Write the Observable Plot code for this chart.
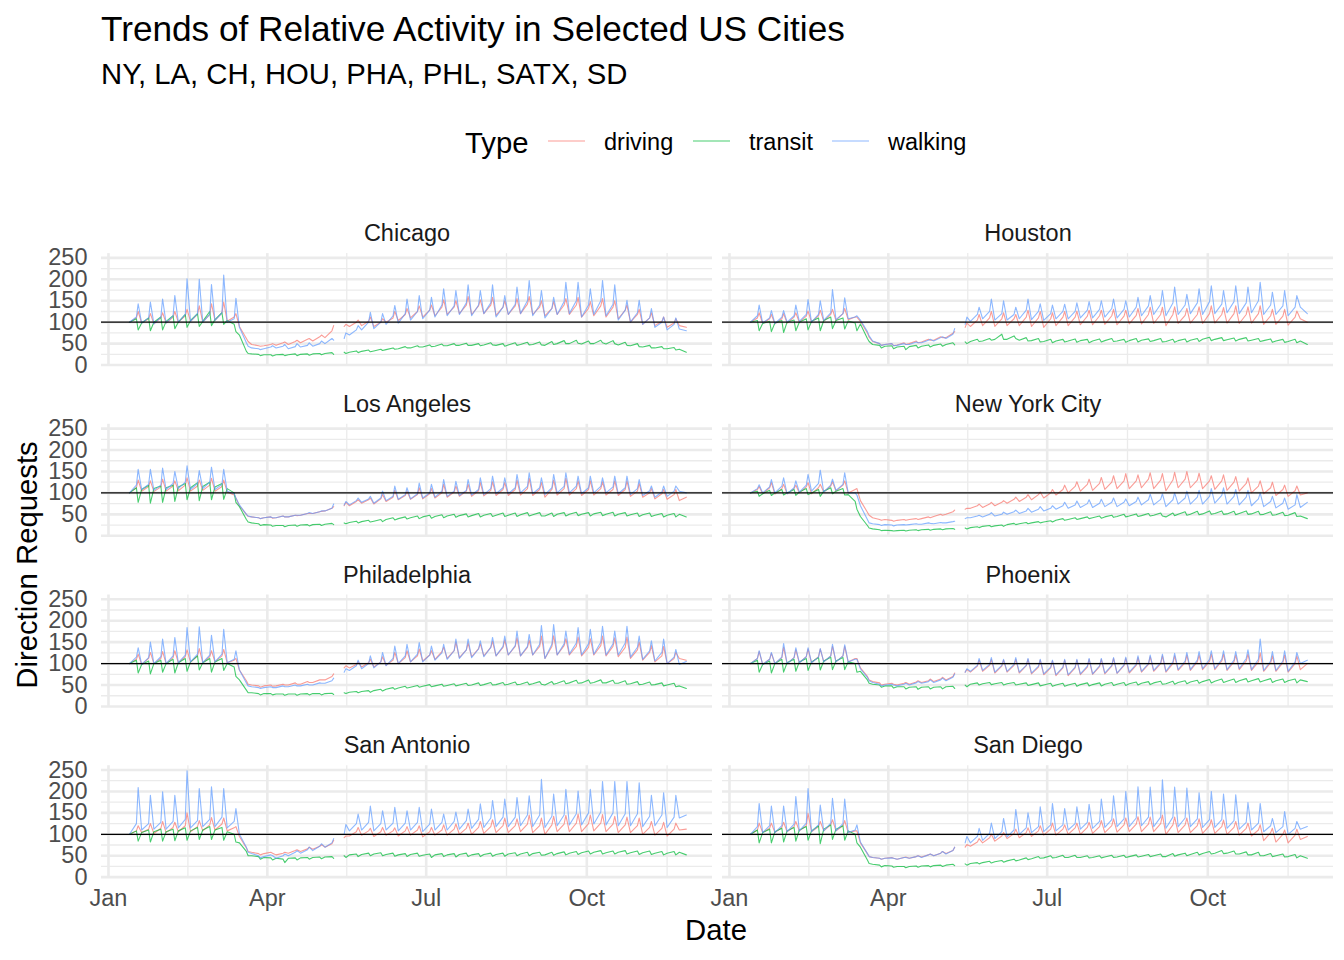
<!DOCTYPE html>
<html><head><meta charset="utf-8">
<script src="https://cdn.jsdelivr.net/npm/d3@7"></script>
<script src="https://cdn.jsdelivr.net/npm/@observablehq/plot@0.6"></script>
<style>
body{margin:0;background:#fff;font-family:"Liberation Sans",Arial,Helvetica,sans-serif;}
#wrap{position:relative;width:1344px;height:960px;overflow:hidden;background:#fff;}
.t{position:absolute;white-space:nowrap;line-height:1;color:#000;}
#chart{position:absolute;left:0;top:190px;}
</style></head><body>
<div id="wrap">
<div id="chart"></div>
<div class="t" style="left:101px;top:11px;font-size:35.2px;">Trends of Relative Activity in Selected US Cities</div>
<div class="t" style="left:101px;top:58.7px;font-size:29.3px;">NY, LA, CH, HOU, PHA, PHL, SATX, SD</div>
<div id="legend"></div>
<div class="t" style="left:716px;top:930px;font-size:29.3px;transform:translate(-50%,-50%);">Date</div>
<div class="t" style="left:27px;top:565px;font-size:29.3px;transform:translate(-50%,-50%) rotate(-90deg);">Direction Requests</div>
</div>
<script>
// ---------- categories / ticks ----------
const cities = ["Chicago","Houston","Los Angeles","New York City","Philadelphia","Phoenix","San Antonio","San Diego"];
const types = ["driving","transit","walking"];
const typeColors = ["#F8766D","#00BA38","#619CFF"];
const firstMonday = "2020-01-13";
const sampleOffsets = [0,4,5]; // Mon, Fri, Sat of each week
const xTicks = ["2020-01-01","2020-04-01","2020-07-01","2020-10-01"];
const xTickLabels = ["Jan","Apr","Jul","Oct"];
const xMinorBreaks = ["2020-02-15T12:00Z","2020-05-16T12:00Z","2020-08-16T00:00Z","2020-11-16T00:00Z"];
const yTicks = [0,50,100,150,200,250];
const yMinorBreaks = [25,75,125,175,225];
const baseline = [100];

// ---------- series values: weekly [Mon, Fri, Sat]; last week = [Mon, Fri] ----------
const chicagoDriving = [[100,110,125],[98,108,120],[96,110,122],[98,112,125],[100,115,130],[102,118,138],[100,118,143],[104,122,147],[102,112,120],[90,62,55],
[48,45,44],[45,48,50],[46,52,54],[48,55,58],[52,60,62],[56,66,70],[64,80,92],[null,90,95],[90,100,105],[92,102,112],
[90,100,108],[100,110,125],[104,118,132],[110,125,138],[112,128,140],[115,135,152],[118,135,150],[120,140,160],[118,138,152],[120,140,158],
[116,135,150],[118,138,155],[120,142,160],[118,135,150],[115,132,148],[118,140,155],[118,140,158],[112,132,148],[115,138,155],[112,135,150],
[108,128,140],[100,118,130],[95,110,122],[92,102,112],[88,98,108],[92,88]];
const chicagoTransit = [[100,108,82],[98,110,80],[100,112,82],[102,115,85],[100,118,88],[104,120,90],[102,125,92],[106,122,95],[104,95,78],[70,32,27],
[26,25,22],[24,24,21],[24,25,22],[24,26,22],[25,26,23],[26,27,24],[27,29,25],[null,30,27],[30,33,29],[32,35,31],
[33,37,34],[36,40,37],[38,43,40],[40,45,42],[42,47,43],[44,49,45],[45,50,46],[46,51,46],[46,50,45],[47,52,47],
[46,50,44],[47,52,46],[48,53,47],[48,54,47],[46,55,48],[50,57,50],[50,58,51],[49,56,50],[50,58,52],[49,57,50],
[47,53,46],[45,50,43],[42,46,40],[40,43,38],[38,41,35],[37,30]];
const chicagoWalking = [[100,112,143],[98,110,147],[96,112,154],[98,115,162],[100,118,201],[102,120,200],[100,118,188],[104,122,210],[100,108,156],[88,52,44],
[40,38,36],[38,42,45],[40,44,48],[38,43,50],[42,46,52],[44,50,56],[50,62,58],[null,62,75],[70,82,92],[82,100,123],
[85,100,120],[95,115,139],[98,120,154],[105,125,162],[108,128,158],[112,140,178],[115,138,174],[118,145,187],[115,140,174],[120,145,187],
[112,135,162],[118,142,182],[120,150,197],[115,140,174],[110,132,158],[118,148,193],[120,150,193],[112,140,178],[118,150,197],[115,142,187],
[105,128,151],[100,122,151],[95,110,132],[88,100,112],[82,95,110],[84,80]];

const houstonDriving = [[100,110,122],[97,108,118],[96,108,120],[98,112,122],[100,114,126],[100,115,128],[102,118,130],[104,120,132],[106,112,112],[102,75,65],
[55,50,46],[48,50,45],[47,52,48],[50,56,52],[54,60,58],[58,66,64],[64,74,78],[null,88,98],[90,105,118],[92,110,125],
[90,108,122],[92,108,118],[92,112,128],[90,110,125],[88,108,122],[92,112,125],[92,112,126],[94,114,128],[94,115,128],[95,115,130],
[94,114,128],[96,116,132],[96,118,135],[97,118,135],[92,118,136],[97,116,132],[98,118,136],[97,120,138],[98,118,134],[98,120,138],
[97,118,136],[98,120,138],[95,115,130],[95,114,130],[93,112,126],[108,100]];
const houstonTransit = [[100,104,80],[97,102,78],[98,104,76],[100,105,80],[100,108,82],[102,110,80],[104,112,85],[104,110,84],[103,98,80],[96,62,55],
[48,46,40],[44,45,38],[42,44,36],[43,46,40],[44,47,42],[46,49,44],[48,52,47],[null,54,50],[55,60,55],[56,62,58],
[60,72,60],[60,68,62],[58,64,56],[57,62,54],[55,60,52],[56,60,54],[56,61,53],[57,60,52],[56,61,54],[57,62,55],
[56,60,53],[57,62,54],[58,61,55],[57,62,54],[55,60,53],[57,61,54],[58,62,55],[60,65,57],[60,64,57],[59,63,56],
[60,64,56],[58,62,55],[57,61,53],[56,60,53],[55,60,52],[56,48]];
const houstonWalking = [[100,115,140],[98,110,127],[97,112,127],[100,115,140],[102,118,153],[100,118,150],[104,122,176],[106,120,157],[108,112,115],[105,78,68],
[56,50,46],[48,50,45],[46,50,48],[48,54,52],[52,58,60],[56,64,66],[62,72,85],[null,95,112],[102,118,135],[108,125,154],
[105,120,150],[105,118,135],[108,128,154],[106,125,143],[104,120,140],[108,125,142],[108,125,145],[110,128,148],[110,130,150],[112,132,154],
[110,130,150],[112,135,158],[115,138,162],[118,142,174],[115,145,182],[118,140,165],[120,145,178],[118,148,185],[120,142,174],[122,148,185],
[120,145,182],[122,150,193],[118,140,170],[118,138,174],[115,135,162],[135,120]];

const losAngelesDriving = [[100,112,130],[104,115,128],[103,114,132],[104,116,128],[105,118,135],[104,116,130],[106,118,134],[104,115,130],[102,95,88],[70,50,45],
[44,42,40],[42,44,41],[42,46,44],[44,48,47],[48,52,52],[52,56,57],[58,64,68],[null,70,78],[70,80,84],[76,84,88],
[74,86,96],[80,90,106],[84,94,104],[85,96,112],[86,98,110],[88,100,120],[90,102,116],[92,104,120],[92,105,124],[93,106,126],
[94,108,124],[94,108,130],[95,110,134],[94,108,124],[90,108,130],[95,110,134],[95,110,128],[94,108,128],[95,110,126],[95,108,128],
[94,108,128],[92,104,122],[90,100,110],[86,98,108],[85,96,108],[82,90]];
const losAngelesTransit = [[100,112,78],[108,118,76],[110,116,78],[112,118,80],[114,122,84],[112,124,82],[115,125,84],[114,122,85],[110,100,78],[68,38,32],
[30,28,24],[26,25,22],[24,24,21],[24,25,22],[25,26,23],[26,27,24],[27,29,26],[null,30,28],[31,34,30],[33,36,32],
[34,38,33],[38,42,37],[40,44,39],[42,46,40],[44,48,41],[45,49,42],[46,50,43],[47,51,44],[47,52,44],[48,52,45],
[48,53,45],[48,53,45],[49,54,46],[49,54,46],[46,53,45],[50,54,46],[50,55,47],[50,54,46],[51,55,47],[50,55,46],
[50,54,46],[49,53,45],[49,53,45],[48,52,44],[48,52,44],[50,44]];
const losAngelesWalking = [[100,118,155],[108,120,155],[106,118,158],[108,122,150],[110,125,163],[108,122,152],[110,125,160],[108,120,155],[104,98,88],[72,50,46],
[44,42,40],[42,44,42],[42,46,44],[44,48,48],[48,52,54],[52,56,58],[58,64,74],[null,72,80],[72,82,88],[78,86,92],
[76,88,104],[82,92,116],[85,96,112],[86,98,123],[88,100,120],[90,104,131],[92,104,127],[94,106,131],[95,108,135],[96,110,139],
[98,112,135],[98,112,143],[100,115,147],[98,112,135],[96,112,143],[100,115,147],[100,116,139],[98,112,139],[100,115,135],[100,114,139],
[98,112,139],[96,110,131],[94,105,116],[90,102,116],[92,104,116],[104,100]];

const newYorkDriving = [[100,108,115],[98,112,124],[97,110,120],[98,110,118],[100,114,124],[98,112,120],[102,116,126],[104,118,128],[100,108,110],[82,55,48],
[42,38,36],[38,36,34],[36,38,36],[38,40,38],[40,44,42],[45,50,48],[50,56,60],[null,62,64],[64,70,74],[66,74,78],
[70,78,82],[76,85,90],[80,90,96],[84,96,102],[88,100,108],[95,108,118],[100,115,126],[104,120,132],[106,122,136],[108,125,140],
[110,128,145],[110,128,142],[112,132,147],[110,130,145],[105,130,148],[112,132,150],[112,130,146],[110,128,140],[108,128,142],[106,125,138],
[104,122,135],[100,116,128],[98,112,125],[94,108,118],[92,105,116],[95,100]];
const newYorkTransit = [[100,104,92],[98,106,94],[100,108,95],[100,108,94],[102,110,96],[100,108,92],[104,112,98],[104,110,95],[96,80,62],[45,24,18],
[16,14,12],[13,12,11],[12,13,11],[13,14,12],[14,15,13],[15,16,14],[16,17,15],[null,18,16],[19,21,19],[22,24,21],
[23,25,22],[26,29,26],[28,31,28],[30,33,30],[32,35,32],[36,40,36],[38,42,38],[40,44,40],[42,46,41],[44,48,43],
[45,50,44],[46,51,45],[47,52,46],[48,53,46],[44,53,47],[50,56,48],[50,57,49],[51,58,50],[52,58,50],[51,57,49],
[52,58,50],[51,57,49],[50,56,48],[49,55,47],[48,54,45],[46,40]];
const newYorkWalking = [[100,110,119],[100,114,131],[100,116,135],[98,112,128],[102,118,143],[104,122,153],[102,118,132],[106,120,147],[100,100,95],[70,38,30],
[28,26,24],[26,25,23],[25,26,25],[26,28,27],[27,30,29],[28,31,30],[30,33,34],[null,40,42],[42,46,48],[44,50,54],
[46,50,55],[50,56,60],[52,58,64],[55,62,68],[58,64,70],[62,70,78],[64,72,81],[66,75,84],[66,76,85],[68,78,88],
[68,78,86],[70,80,90],[72,84,97],[72,85,98],[68,84,100],[74,88,104],[74,90,106],[74,92,110],[76,94,112],[74,92,108],
[72,90,106],[70,86,100],[68,80,92],[65,76,88],[62,72,96],[66,78]];

const philadelphiaDriving = [[100,110,122],[98,112,126],[100,112,128],[100,114,130],[102,116,132],[103,118,135],[102,116,130],[104,118,133],[102,108,112],[85,60,52],
[50,48,45],[48,50,47],[48,52,50],[50,55,52],[52,58,56],[56,62,62],[62,70,76],[null,90,95],[90,98,104],[92,102,110],
[92,104,116],[96,108,126],[100,114,130],[104,118,134],[106,120,130],[110,128,138],[112,130,150],[114,132,148],[116,135,146],[118,138,152],
[118,138,155],[120,140,160],[118,138,155],[120,140,164],[112,140,165],[120,142,158],[120,140,162],[118,138,158],[120,142,164],[118,140,160],
[116,138,162],[112,132,150],[108,126,142],[104,118,140],[100,112,126],[112,108]];
const philadelphiaTransit = [[100,108,78],[98,106,76],[100,108,80],[100,110,78],[102,112,82],[104,118,85],[102,112,80],[104,112,84],[100,92,70],[62,38,32],
[32,30,27],[30,30,27],[29,29,26],[29,29,26],[29,30,27],[30,30,27],[30,31,28],[null,32,30],[33,35,32],[35,37,33],
[37,40,36],[40,44,40],[43,47,43],[45,49,45],[47,51,46],[48,52,47],[49,53,48],[50,54,49],[50,55,49],[51,56,50],
[51,56,50],[52,57,51],[52,57,51],[53,58,52],[50,58,52],[54,60,53],[55,61,54],[55,62,54],[56,62,55],[55,61,54],
[54,60,52],[53,58,51],[52,57,50],[51,55,48],[50,54,46],[48,42]];
const philadelphiaWalking = [[100,115,137],[98,114,150],[100,116,157],[100,118,161],[102,120,184],[104,122,186],[102,120,166],[104,122,180],[102,110,130],[85,55,48],
[46,44,42],[44,46,44],[44,48,46],[46,50,48],[48,52,50],[50,55,54],[54,60,66],[null,80,88],[84,95,108],[88,100,118],
[90,104,126],[95,112,141],[100,118,145],[104,122,149],[104,120,141],[108,125,145],[110,130,157],[112,132,157],[114,134,153],[116,138,161],
[118,140,164],[120,142,176],[118,140,168],[120,145,189],[112,145,191],[120,146,176],[122,148,184],[120,146,180],[122,150,187],[120,146,176],
[120,148,187],[115,138,164],[110,130,153],[106,126,157],[100,115,133],[98,105]];

const phoenixDriving = [[100,112,128],[98,110,124],[100,114,138],[100,114,132],[102,116,134],[102,116,134],[104,118,140],[104,118,140],[104,112,112],[90,70,62],
[58,55,50],[52,54,52],[50,54,56],[52,57,60],[56,60,64],[58,64,68],[62,70,78],[null,80,86],[80,94,108],[82,96,110],
[78,94,108],[80,96,110],[78,95,110],[76,92,108],[74,90,106],[72,90,108],[72,90,108],[74,92,110],[75,93,110],[76,94,112],
[77,95,112],[78,96,114],[80,98,116],[82,100,118],[80,100,118],[84,102,120],[84,104,120],[86,105,122],[86,106,122],[84,104,120],
[86,106,122],[84,104,125],[82,102,118],[82,102,120],[80,100,118],[86,100]];
const phoenixTransit = [[100,108,80],[98,106,78],[100,110,80],[102,110,82],[104,112,84],[104,114,85],[106,115,86],[106,114,86],[104,100,80],[82,62,54],
[52,50,45],[48,48,43],[46,46,41],[45,46,40],[45,46,41],[45,46,41],[46,47,42],[null,50,46],[52,55,50],[53,56,51],
[53,56,50],[53,56,50],[52,55,49],[51,55,48],[50,54,47],[50,54,47],[50,54,47],[51,55,48],[51,55,48],[52,56,49],
[52,56,49],[53,57,50],[54,58,51],[55,59,52],[53,59,52],[56,60,53],[57,61,54],[58,63,55],[59,64,56],[59,64,56],
[60,65,57],[60,65,57],[60,65,56],[60,64,56],[60,64,55],[62,58]];
const phoenixWalking = [[100,112,130],[98,110,126],[100,115,147],[100,114,137],[102,116,137],[102,115,135],[104,118,145],[104,118,144],[104,110,110],[88,68,60],
[56,52,48],[50,52,50],[48,52,54],[50,55,58],[54,58,62],[56,62,66],[60,68,76],[null,80,88],[82,96,112],[84,98,114],
[80,96,110],[82,98,114],[80,96,112],[78,94,110],[76,92,108],[74,92,110],[74,92,110],[76,94,112],[76,95,112],[78,96,114],
[78,97,115],[80,98,118],[82,100,120],[84,102,122],[82,104,124],[86,106,126],[86,108,128],[88,110,130],[88,110,130],[86,108,128],
[88,112,132],[86,110,157],[84,106,128],[84,106,130],[82,104,126],[100,108]];

const sanAntonioDriving = [[100,108,120],[104,112,125],[102,114,130],[104,116,128],[106,120,150],[106,118,132],[108,122,139],[110,124,138],[108,115,118],[95,68,60],
[58,55,52],[55,58,56],[52,56,58],[56,62,64],[60,66,70],[65,72,76],[70,78,86],[null,92,96],[96,106,116],[98,108,114],
[95,106,116],[98,108,115],[96,108,118],[98,110,120],[94,106,116],[98,110,122],[98,112,124],[100,114,126],[100,116,130],[102,118,134],
[104,120,138],[104,120,136],[106,124,145],[104,120,138],[100,122,142],[106,124,144],[106,126,147],[106,125,145],[108,126,146],[106,124,142],
[104,122,140],[104,120,138],[100,116,130],[98,114,128],[96,112,126],[110,112]];
const sanAntonioTransit = [[100,108,84],[104,110,82],[106,112,84],[106,112,85],[108,115,86],[108,116,88],[110,118,88],[110,116,86],[106,100,82],[80,60,50],
[50,48,42],[46,45,40],[44,42,34],[44,45,40],[45,46,42],[46,47,43],[47,48,44],[null,50,46],[52,54,48],[53,56,50],
[54,57,50],[53,56,49],[52,55,48],[53,56,49],[51,54,46],[52,55,48],[52,55,47],[53,56,48],[52,55,48],[53,56,49],
[53,56,49],[54,57,50],[54,58,50],[55,58,51],[52,58,51],[55,59,52],[56,60,53],[57,61,54],[58,62,54],[57,61,54],
[58,62,54],[57,61,53],[57,61,53],[56,60,52],[56,60,52],[58,52]];
const sanAntonioWalking = [[100,125,209],[110,125,191],[112,128,199],[112,130,191],[115,135,248],[115,132,207],[118,135,211],[118,140,207],[115,130,160],[100,70,58],
[55,50,45],[48,52,50],[44,50,54],[50,58,62],[56,64,70],[62,72,78],[70,80,90],[null,100,123],[108,125,147],[110,128,166],
[108,125,155],[110,126,163],[108,126,155],[110,128,163],[106,124,159],[110,128,147],[110,130,152],[112,132,159],[114,135,171],[116,138,179],
[118,140,182],[118,140,186],[120,145,190],[118,145,228],[116,142,194],[120,145,205],[122,148,201],[122,150,205],[124,152,223],[122,150,223],
[120,148,223],[120,148,220],[118,142,191],[120,145,197],[116,140,191],[138,145]];

const sanDiegoDriving = [[100,110,126],[104,114,126],[104,116,128],[106,118,130],[108,120,149],[106,118,130],[108,122,134],[108,120,132],[104,108,108],[80,55,48],
[46,44,42],[44,46,44],[42,46,47],[44,48,50],[47,52,54],[50,56,60],[55,62,70],[null,70,76],[72,82,90],[80,92,100],
[84,96,104],[90,102,112],[92,104,115],[95,108,120],[98,112,126],[98,112,122],[100,115,126],[100,116,128],[102,118,132],[104,120,136],
[105,122,138],[106,124,141],[106,124,140],[106,125,145],[100,122,140],[104,122,138],[104,120,136],[102,120,134],[102,118,133],[100,116,130],
[98,114,126],[96,110,122],[85,104,114],[82,100,110],[80,98,112],[88,95]];
const sanDiegoTransit = [[100,110,80],[104,112,80],[106,114,82],[108,116,84],[110,118,86],[108,120,78],[112,122,88],[112,120,86],[108,100,80],[70,40,32],
[30,28,24],[27,26,23],[25,25,22],[25,26,23],[26,27,24],[27,28,25],[28,30,27],[null,31,28],[32,34,31],[34,37,33],
[36,39,35],[38,42,38],[40,45,41],[43,48,44],[45,50,45],[46,51,46],[46,51,46],[46,50,45],[46,50,45],[47,51,46],
[47,51,46],[48,52,47],[49,53,48],[50,54,48],[48,55,49],[52,56,50],[53,58,52],[55,60,54],[56,62,55],[56,61,54],
[54,59,52],[52,58,50],[50,55,48],[50,54,47],[48,53,45],[50,44]];
const sanDiegoWalking = [[100,118,172],[104,120,166],[104,120,166],[106,124,188],[108,126,207],[106,122,168],[108,126,184],[108,125,182],[104,110,122],[82,55,48],
[46,44,42],[44,45,44],[42,46,46],[44,48,50],[46,52,54],[50,56,60],[54,62,70],[null,80,95],[80,95,114],[86,102,126],
[90,106,137],[94,110,158],[100,115,150],[104,118,164],[106,122,172],[108,122,160],[110,125,164],[112,128,170],[114,130,182],[116,134,190],
[118,136,200],[118,138,211],[120,140,210],[118,140,227],[114,140,210],[118,138,208],[118,136,197],[116,134,200],[116,134,194],[114,132,192],
[112,128,174],[110,126,172],[106,120,137],[104,118,153],[100,114,130],[112,118]];

const seriesByCity = {
  "Chicago": [chicagoDriving, chicagoTransit, chicagoWalking],
  "Houston": [houstonDriving, houstonTransit, houstonWalking],
  "Los Angeles": [losAngelesDriving, losAngelesTransit, losAngelesWalking],
  "New York City": [newYorkDriving, newYorkTransit, newYorkWalking],
  "Philadelphia": [philadelphiaDriving, philadelphiaTransit, philadelphiaWalking],
  "Phoenix": [phoenixDriving, phoenixTransit, phoenixWalking],
  "San Antonio": [sanAntonioDriving, sanAntonioTransit, sanAntonioWalking],
  "San Diego": [sanDiegoDriving, sanDiegoTransit, sanDiegoWalking]
};

// ---------- build long table ----------
const DAY = 864e5;
const t0 = new Date(firstMonday + "T00:00:00Z").getTime();
const rows = [];
cities.forEach((city, ci) => {
  seriesByCity[city].forEach((weeks, ti) => {
    weeks.forEach((vals, k) => {
      vals.forEach((v, j) => {
        rows.push({city, type: types[ti], col: ci % 2, row: Math.floor(ci / 2),
          date: new Date(t0 + (k * 7 + sampleOffsets[j]) * DAY), value: v});
      });
    });
  });
});
const strips = cities.map((city, ci) => ({city, col: ci % 2, row: Math.floor(ci / 2)}));
const xTickDates = xTicks.map(d => new Date(d + "T00:00:00Z"));
const xMinorDates = xMinorBreaks.map(d => new Date(d));

const chart = Plot.plot({
  width: 1344, height: 770,
  marginLeft: 101, marginRight: 11, marginTop: 63.1, marginBottom: 82.9,
  style: {fontFamily: "'Liberation Sans', Arial, Helvetica, sans-serif", fontSize: "23.5px", background: "#fff", overflow: "visible"},
  fx: {domain: [0, 1], paddingInner: 10 / 621, paddingOuter: 0, round: false, axis: null, label: null},
  fy: {domain: [0, 1, 2, 3], paddingInner: 0.3445, paddingOuter: 0, round: false, axis: null, label: null},
  x: {type: "utc", domain: [new Date("2019-12-28T00:00:00Z"), new Date("2020-12-12T00:00:00Z")]},
  y: {domain: [-1, 260]},
  color: {domain: types, range: typeColors},
  marks: [
    Plot.ruleY(yMinorBreaks, {stroke: "#EBEBEB", strokeWidth: 1.3}),
    Plot.ruleX(xMinorDates, {stroke: "#EBEBEB", strokeWidth: 1.3}),
    Plot.ruleY(yTicks, {stroke: "#EBEBEB", strokeWidth: 2.6}),
    Plot.ruleX(xTickDates, {stroke: "#EBEBEB", strokeWidth: 2.6}),
    Plot.line(rows, {x: "date", y: "value", z: "type", stroke: "type", fx: "col", fy: "row", strokeWidth: 1.1, strokeOpacity: 0.72}),
    Plot.ruleY(baseline, {stroke: "#000", strokeWidth: 1.3}),
    Plot.text(strips, {fx: "col", fy: "row", text: "city", frameAnchor: "top", lineAnchor: "middle", dy: -20, fontSize: 23.5, fill: "#1A1A1A"}),
    Plot.axisX({ticks: xTickDates, tickFormat: d => xTickLabels[xTickDates.findIndex(t => +t === +d)], tickSize: 0, tickPadding: 12, label: null, color: "#4D4D4D", fontSize: 23.5}),
    Plot.axisY({ticks: yTicks, tickSize: 0, tickPadding: 14, label: null, color: "#4D4D4D", fontSize: 23.5})
  ]
});
document.getElementById("chart").appendChild(chart);

// ---------- legend ----------
const legend = document.getElementById("legend");
const lg = (txt, left, top, size) => {
  const d = document.createElement("div");
  d.className = "t"; d.style.left = left + "px"; d.style.top = top + "px"; d.style.fontSize = size + "px";
  d.textContent = txt; legend.appendChild(d);
};
lg("Type", 465, 142 - 0.4885 * 29.3, 29.3);
const keyX = [548, 693, 832];
const labelX = [604, 749, 888];
types.forEach((t, i) => {
  const s = document.createElementNS("http://www.w3.org/2000/svg", "svg");
  s.setAttribute("width", 37); s.setAttribute("height", 6);
  s.style.position = "absolute"; s.style.left = keyX[i] + "px"; s.style.top = "138px";
  const l = document.createElementNS("http://www.w3.org/2000/svg", "line");
  l.setAttribute("x1", 0); l.setAttribute("x2", 37); l.setAttribute("y1", 3); l.setAttribute("y2", 3);
  l.setAttribute("stroke", typeColors[i]); l.setAttribute("stroke-width", 1.1); l.setAttribute("stroke-opacity", 0.72);
  s.appendChild(l); legend.appendChild(s);
  lg(t, labelX[i], 142 - 0.4885 * 23.5, 23.5);
});
</script>
</body></html>
